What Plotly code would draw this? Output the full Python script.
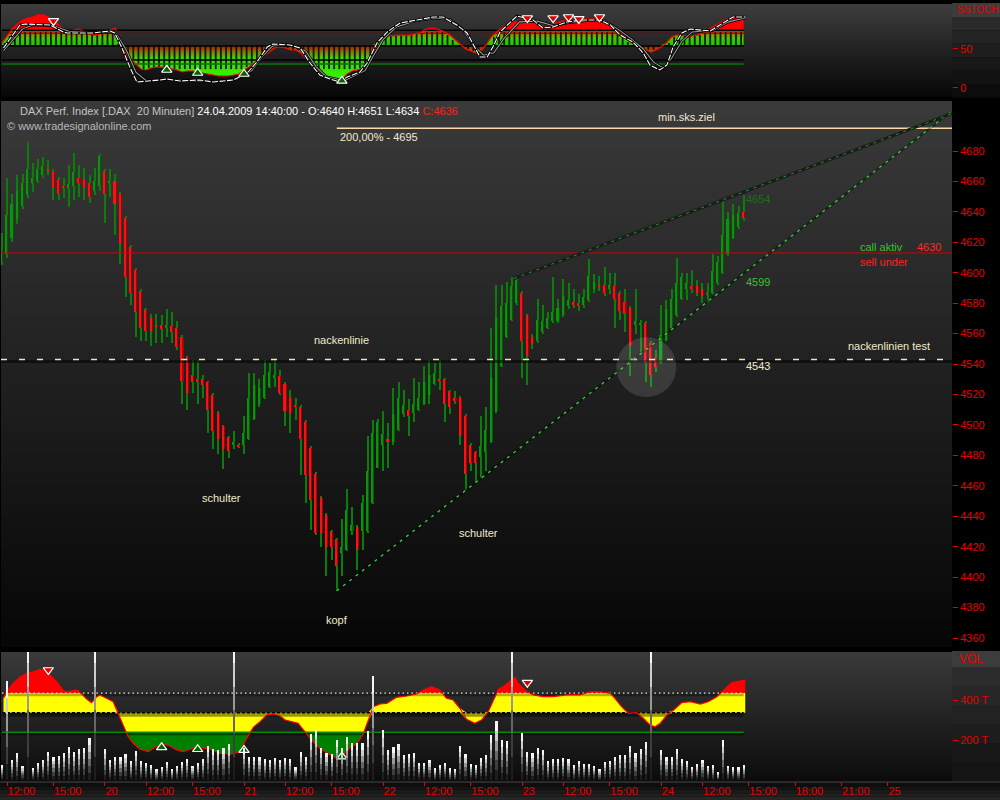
import numpy as np
import plotly.graph_objects as go

# ---------------------------------------------------------------- data
# 20-minute DAX bars; x = bar slot (one slot per 20 minutes, night gaps removed)
FIRST_SLOT = -1
OPEN = [4607, 4612, 4623, 4635, 4644, 4651, 4659, 4660, 4664, 4668,
        4666, 4661, 4657, 4656, 4657, 4662, 4661, 4659, 4654, 4657,
        4667, 4659, 4660, 4652, 4636, 4617, 4602, 4588, 4576, 4570,
        4566, 4566, 4564, 4565, 4564, 4558, 4544, 4533, 4530, 4530,
        4528, 4520, 4508, 4499, 4492, 4487, 4487, 4487, 4491, 4504,
        4514, 4518, 4525, 4531, 4532, 4527, 4518, 4513, 4512, 4502,
        4485, 4468, 4452, 4441, 4430, 4425, 4416, 4418, 4430, 4433,
        4430, 4430, 4449, 4472, 4487, 4491, 4489, 4497, 4507, 4510,
        4508, 4510, 4514, 4520, 4527, 4530, 4530, 4522, 4518, 4518,
        4506, 4487, 4482, 4479, 4482, 4489, 4509, 4539, 4558, 4569,
        4580, 4587, 4572, 4558, 4555, 4561, 4564, 4568, 4568, 4572,
        4578, 4581, 4580, 4579, 4582, 4589, 4592, 4592, 4589, 4591,
        4587, 4581, 4577, 4566, 4566, 4567, 4554, 4544, 4541, 4556,
        4564, 4572, 4583, 4589, 4591, 4591, 4589, 4586, 4587, 4593,
        4600, 4612, 4623, 4630, 4640]
HIGH = [4626, 4662, 4652, 4664, 4665, 4686, 4672, 4675, 4676, 4674,
        4668, 4663, 4662, 4671, 4679, 4671, 4669, 4664, 4669, 4678,
        4668, 4668, 4665, 4653, 4637, 4618, 4603, 4589, 4577, 4573,
        4573, 4572, 4576, 4574, 4568, 4559, 4545, 4543, 4543, 4533,
        4529, 4521, 4509, 4500, 4493, 4496, 4488, 4506, 4534, 4534,
        4530, 4543, 4541, 4543, 4536, 4528, 4523, 4518, 4513, 4503,
        4486, 4469, 4453, 4442, 4431, 4426, 4438, 4458, 4446, 4434,
        4454, 4493, 4503, 4504, 4509, 4501, 4524, 4528, 4523, 4517,
        4531, 4528, 4539, 4543, 4541, 4543, 4531, 4523, 4522, 4519,
        4507, 4488, 4483, 4506, 4512, 4564, 4592, 4592, 4594, 4597,
        4597, 4588, 4573, 4560, 4583, 4579, 4574, 4597, 4583, 4596,
        4593, 4589, 4586, 4589, 4609, 4599, 4598, 4604, 4600, 4600,
        4588, 4589, 4578, 4589, 4569, 4568, 4555, 4549, 4579, 4582,
        4589, 4610, 4600, 4600, 4602, 4595, 4593, 4593, 4612, 4611,
        4648, 4640, 4645, 4644, 4651]
LOW = [4605, 4610, 4620, 4632, 4642, 4649, 4653, 4659, 4662, 4664,
       4648, 4648, 4649, 4643, 4648, 4650, 4648, 4646, 4651, 4654,
       4633, 4650, 4625, 4606, 4584, 4579, 4558, 4555, 4555, 4552,
       4554, 4554, 4558, 4554, 4549, 4514, 4510, 4521, 4514, 4518,
       4495, 4484, 4481, 4471, 4478, 4484, 4485, 4481, 4490, 4503,
       4512, 4517, 4524, 4525, 4520, 4499, 4495, 4503, 4467, 4449,
       4431, 4428, 4420, 4401, 4411, 4391, 4401, 4417, 4428, 4405,
       4418, 4429, 4448, 4472, 4470, 4472, 4487, 4496, 4505, 4493,
       4502, 4509, 4513, 4514, 4526, 4523, 4502, 4507, 4514, 4487,
       4457, 4470, 4462, 4465, 4470, 4488, 4508, 4538, 4557, 4568,
       4579, 4531, 4526, 4550, 4554, 4560, 4563, 4567, 4567, 4571,
       4576, 4577, 4575, 4577, 4581, 4587, 4588, 4585, 4586, 4564,
       4569, 4561, 4532, 4560, 4548, 4528, 4525, 4535, 4540, 4555,
       4563, 4571, 4582, 4582, 4587, 4585, 4580, 4580, 4586, 4592,
       4599, 4611, 4622, 4629, 4634]
CLOSE = [4615, 4638, 4645, 4654, 4659, 4668, 4662, 4668, 4670, 4666,
         4656, 4652, 4656, 4658, 4666, 4659, 4656, 4650, 4660, 4677,
         4652, 4660, 4645, 4619, 4597, 4587, 4574, 4564, 4562, 4562,
         4565, 4563, 4566, 4561, 4551, 4529, 4521, 4528, 4528, 4526,
         4510, 4496, 4491, 4484, 4483, 4489, 4486, 4495, 4518, 4526,
         4524, 4533, 4535, 4533, 4521, 4509, 4508, 4512, 4491, 4467,
         4451, 4429, 4429, 4420, 4420, 4407, 4420, 4444, 4434, 4418,
         4449, 4470, 4495, 4502, 4494, 4489, 4507, 4518, 4513, 4506,
         4514, 4518, 4528, 4533, 4534, 4529, 4514, 4512, 4516, 4493,
         4468, 4475, 4475, 4486, 4497, 4531, 4570, 4578, 4580, 4591,
         4595, 4555, 4545, 4553, 4569, 4568, 4570, 4574, 4577, 4585,
         4582, 4579, 4578, 4584, 4598, 4594, 4591, 4587, 4592, 4583,
         4575, 4573, 4552, 4568, 4567, 4541, 4533, 4538, 4559, 4576,
         4583, 4593, 4597, 4593, 4589, 4587, 4585, 4587, 4601, 4607,
         4625, 4635, 4638, 4639, 4636]
# volume in thousands
VOLUME_T = [75, 495, 100, 133, 70, 700, 62, 83, 100, 142,
            117, 120, 133, 163, 140, 155, 160, 208, 700, 0,
            155, 100, 113, 117, 130, 95, 145, 95, 87, 73,
            55, 67, 88, 55, 70, 88, 105, 70, 83, 105,
            170, 153, 150, 158, 178, 700, 0, 158, 117, 113,
            113, 103, 100, 110, 100, 110, 103, 63, 138, 113,
            228, 250, 162, 137, 128, 200, 158, 217, 183, 183,
            183, 247, 520, 0, 250, 150, 163, 180, 125, 130,
            133, 83, 83, 100, 58, 73, 83, 58, 55, 170,
            130, 80, 75, 108, 125, 225, 295, 200, 195, 700,
            0, 233, 138, 133, 158, 150, 95, 105, 105, 108,
            105, 75, 95, 80, 80, 70, 55, 88, 97, 113,
            125, 125, 170, 133, 155, 188, 700, 0, 150, 113,
            113, 155, 105, 97, 67, 78, 100, 70, 75, 38,
            200, 70, 63, 63, 75]
# SSTO oscillator histogram (one value per slot)
SSTO_HIST = [57.8, 66.8, 75.8, 82.3, 87.5, 90, 91.3, 94, 94, 91.3,
             86, 81, 75.8, 72, 74.5, 75.8, 72, 69.4, 68, 69.4,
             70.7, 74.5, 77, 56.5, 43.5, 37, 30.6, 24.2, 22.9, 25.5,
             26.7, 26.7, 25.5, 24.2, 22.9, 20.3, 21.6, 21.6, 20.3, 19,
             17.7, 16.4, 15.1, 15.1, 15.1, 16.4, 17.7, 22.9, 26.7, 31.9,
             37, 42.2, 47.4, 51.3, 52.6, 51.3, 48.7, 48.7, 44.8, 38.4,
             30.6, 22.9, 17.7, 13.8, 11.2, 8.7, 10, 17.7, 21.6, 22.9,
             25.5, 30.6, 39.7, 59, 65.5, 68, 66.8, 68, 68, 68,
             69.4, 70.7, 74.5, 77, 77, 74.5, 72, 68, 61.6, 55.2,
             50, 47.4, 44.8, 47.4, 55.2, 65.5, 72, 77, 81, 84.9,
             84.9, 87.5, 86.2, 83.6, 81, 78.4, 79.7, 82.3, 84.9, 86.2,
             86.2, 87.5, 87.5, 88.8, 88.8, 88.8, 87.5, 86.2, 83.6, 78.4,
             72, 65.5, 59, 55.2, 52.6, 48.7, 46.1, 48.7, 52.6, 57.8,
             65.5, 68, 68, 66.8, 66.8, 68, 70.7, 74.5, 78.4, 82.3,
             86.2, 88.8, 90, 91.3, 91.3]
# SSTO %K and %D lines
SSTO_K_SLOT = [-0.7, 2.5, 3.5, 8.3, 10.9, 11.6, 16.7, 20, 20.9, 22.3, 23.9, 25.2, 29.7,
               31.0, 33.6, 37.4, 40, 43.9, 46.6, 48.5, 50.5, 51.6, 54.9, 56.9, 58.8, 60.7,
               62.7, 64.6, 66, 68.5, 69.9, 71.8, 73.8, 76.3, 79.6, 82.7, 84.6, 87.3, 89.3,
               91.8, 93.2, 94.3, 95.7, 99, 102.1, 104, 106, 108.7, 111.8, 115.1, 117.1, 119,
               121.5, 123.5, 124.8, 126.7, 128.1, 129.3, 131, 132.6, 136.5, 138.4, 140.9, 143.3]
SSTO_K = [51.3, 81, 82.3, 81, 72, 70.7, 70.7, 73.3, 70.7, 51.3, 25.5, 7.4, 10,
          11.2, 8.7, 10, 7.4, 10, 19, 33.2, 52.6, 56.5, 55.2, 51.3, 31.9, 16.4,
          11.2, 7.4, 13.8, 20.3, 31.9, 57.8, 72, 83.6, 87.5, 91.3, 91.3, 81, 70.7,
          39.7, 39.7, 52.6, 72, 92.6, 87.5, 77.1, 78.4, 84.9, 87.5, 87.5, 81, 68,
          59, 44.8, 29.3, 22.9, 29.3, 52.6, 70.7, 75.8, 73.3, 81, 91.3, 91.3]
SSTO_D_SLOT = [-0.7, 3, 5, 9, 12, 17, 21, 23.2, 25, 27, 31, 35, 40, 44.5, 47.5, 49.5,
               51.6, 55, 58, 60, 62, 65.5, 67, 69.5, 71, 73, 75.5, 79, 83, 86, 88.5,
               90.5, 92.5, 94.5, 96.5, 99.5, 103, 106, 109, 113, 116, 118.5, 121, 123.5,
               125.5, 127.5, 129, 131, 133, 137, 140, 143.3]
SSTO_D = [48, 76, 81, 80, 73, 71, 72, 48, 20, 9, 11, 9, 8, 11, 22, 40,
          54, 56, 47, 27, 14, 9, 14, 22, 40, 62, 78, 86, 90, 88, 75,
          55, 42, 45, 64, 85, 86, 80, 84, 87, 86, 76, 64, 50,
          33, 25, 38, 60, 72, 74, 85, 90]
SSTO_SELL_SLOT = [9, 101, 106, 109, 111, 115]
SSTO_SELL = [86.2, 90, 90, 91.3, 88.8, 91.3]
SSTO_BUY_SLOT = [31, 37, 46, 65]
SSTO_BUY = [22.9, 19, 17.7, 8.7]
# volume oscillator drawn behind the volume bars
VOLOSC_SLOT = [-0.7, -0.1, 1.2, 2.5, 3.8, 5.1, 6.4, 7.4, 8.3, 9.6, 10.9, 11.6, 13.5, 14.5,
               15.5, 16.4, 17.4, 18, 19.3, 20.6, 21.6, 22.6, 23.5, 24.5, 25.8, 27.4, 28.7,
               30.3, 31.6, 32.9, 34.2, 35.5, 37.4, 39.4, 41.3, 43.3, 45.2, 46.5, 47.8, 49.1,
               50.4, 51.7, 53, 54, 55.3, 56.5, 57.8, 59.1, 60.7, 62.4, 64, 65.3, 66.6, 67.9,
               69.2, 70.1, 71.1, 72.4, 73.7, 75.6, 77.6, 79.5, 80.8, 82.4, 84, 85.3, 86.6,
               87.9, 89.2, 90.8, 92.1, 93.4, 94.4, 95.4, 96.3, 97.6, 98.6, 99.2, 100.9, 102.2,
               104.1, 106, 108.6, 111.2, 113.2, 115.1, 117.1, 118, 119.3, 120.6, 122.2, 123.5,
               124.8, 125.8, 126.8, 128.1, 129.4, 131, 132.6, 134.6, 136.1, 137.8, 139.2,
               140.7, 143.3]
VOLOSC = [64.8, 71.5, 80.2, 86.3, 90.4, 92, 94.5, 93.1, 88.7, 81.8, 72.6, 71.5, 73.3, 69.2,
          63.7, 60.3, 66.4, 68.2, 64.8, 61.3, 48.7, 35.6, 25.4, 18.6, 12.5, 10, 14.5,
          17.9, 15.8, 11.7, 10, 12.5, 14.1, 12.5, 8.4, 7.6, 10, 23.7, 35, 40.8,
          47.6, 48.7, 46.6, 42.5, 40.8, 39.1, 30.5, 22, 13.5, 7.6, 3.2, 6.6, 14.5, 17.9,
          28.9, 42.5, 56.2, 58.9, 59.6, 65.8, 67.1, 69.2, 73.3, 76.7, 73.3, 64.8, 63,
          54.5, 43.2, 39.1, 42.5, 51, 63, 74, 76.7, 81.8, 86.3, 80.2, 71.5, 68.2,
          66.4, 66.4, 68.2, 68.2, 71.5, 71.5, 69.9, 64.8, 56.2, 49.4, 50, 44.3,
          37.4, 35.6, 39.1, 47.6, 52.8, 60.3, 61.3, 58.9, 61.3, 66.4, 73.3,
          80.8, 83.5]
VOLOSC_SELL_SLOT = [8, 101]
VOLOSC_SELL = [93.8, 80.8]
VOLOSC_BUY_SLOT = [30, 37, 46, 65]
VOLOSC_BUY = [14.5, 12.5, 11.7, 4.9]

# time axis
TICK_SLOTS = [0, 9, 19, 27, 36, 46, 54, 63, 73, 81, 90, 100, 108, 117, 127, 135,
              144, 153, 162, 171]
TICK_LABELS = ["12:00", "15:00", "20", "12:00", "15:00", "21", "12:00", "15:00", "22",
               "12:00", "15:00", "23", "12:00", "15:00", "24", "12:00", "15:00",
               "18:00", "21:00", "25"]

# chart levels
TRIGGER = 4613        # call / sell level
NECKLINE = 4543
TARGET = 4695         # 200 % projection
KOPF_SLOT, SCHULTER_SLOT = 64, 89          # lows defining the rising support
UPPER_A_SLOT, UPPER_B_SLOT = 99, 139       # highs defining the upper line
HIGHLIGHT_SLOT, HIGHLIGHT_PRICE = 124.1, 4538

for arr in (HIGH, LOW, CLOSE, VOLUME_T, SSTO_HIST):
    assert len(arr) == len(OPEN)

# ---------------------------------------------------------------- geometry
W, H = 1000, 800
M_L, M_R, M_T, M_B = 1, 48, 4, 19
PLOT_W = W - M_L - M_R
PLOT_H = H - M_T - M_B
PX_PER_SLOT = 5.151
SLOT0_PX = 7.1
X_RANGE = [(M_L - SLOT0_PX) / PX_PER_SLOT, (W - M_R - SLOT0_PX) / PX_PER_SLOT]


def py(pix):      # page pixel row -> paper fraction
    return (H - M_B - pix) / PLOT_H


def px(pix):      # page pixel column -> paper fraction
    return (pix - M_L) / PLOT_W


MAIN_DOM = [py(647), py(101)]
MAIN_RANGE = [4354.1, 4712.85]
SSTO_DOM = [py(97), 1.0]
SSTO_RANGE = [-12.0, 108.1]
VOL_DOM = [0.0, py(652)]
VOLOSC_RANGE = [-20.05, 112.25]
VOL_RANGE = [-5, 640]
SSTO_BASE = 55
VOLOSC_BASE = 50

RED = "#e60000"
FONT = "Liberation Sans"
CREAM = "#f2e9cc"

slots = np.arange(FIRST_SLOT, FIRST_SLOT + len(OPEN))
o, h, l, c = (np.array(a, float) for a in (OPEN, HIGH, LOW, CLOSE))
last_slot = slots[-1]

fig = go.Figure()


def background(yaxis, lo, hi, c_lo, c_hi):
    d = hi - lo
    fig.add_trace(go.Heatmap(
        x=[X_RANGE[0] - 5, X_RANGE[1] + 5], y=[lo - d, lo, hi, hi + d],
        z=[[0, 0], [0, 0], [1, 1], [1, 1]], zmin=0, zmax=1,
        colorscale=[[0, c_lo], [1, c_hi]], zsmooth="best", showscale=False,
        hoverinfo="skip", xaxis="x", yaxis=yaxis))


def hline(yaxis, y, x0, x1, color, width, dash="solid"):
    fig.add_trace(go.Scatter(x=[x0, x1], y=[y, y], mode="lines",
                             line=dict(color=color, width=width, dash=dash),
                             hoverinfo="skip", xaxis="x", yaxis=yaxis))


# ================================================================ SSTO panel
background("y2", SSTO_RANGE[0], SSTO_RANGE[1], "#060606", "#3d3d3d")
hist = np.array(SSTO_HIST)
pos = np.maximum(hist, SSTO_BASE)
neg = np.minimum(hist, SSTO_BASE)
xs = list(slots) + list(slots[::-1])
fig.add_trace(go.Scatter(
    x=xs, y=list(pos) + [SSTO_BASE] * len(slots), fill="toself", mode="lines",
    line=dict(width=0), hoverinfo="skip", xaxis="x", yaxis="y2",
    fillgradient=dict(type="vertical", start=SSTO_BASE, stop=76,
                      colorscale=[[0, "#1ec800"], [0.4, "#36d000"], [0.62, "#8c9400"],
                                  [0.8, "#d83000"], [1, "#ff0000"]])))
fig.add_trace(go.Scatter(
    x=xs, y=list(neg) + [SSTO_BASE] * len(slots), fill="toself", mode="lines",
    line=dict(width=0), hoverinfo="skip", xaxis="x", yaxis="y2",
    fillgradient=dict(type="vertical", start=15, stop=SSTO_BASE,
                      colorscale=[[0, "#34f000"], [0.6, "#3cd400"], [0.8, "#8a7000"],
                                  [1, "#c00000"]])))
# dark gaps between histogram columns
sx, sy = [], []
for i in range(len(hist) - 1):
    a, b = hist[i], hist[i + 1]
    xm = slots[i] + 0.5
    if a > SSTO_BASE and b > SSTO_BASE:
        sx += [xm, xm, None]
        sy += [SSTO_BASE, min(a, b, 72), None]
    elif a < SSTO_BASE and b < SSTO_BASE:
        sx += [xm, xm, None]
        sy += [SSTO_BASE, max(a, b, 24), None]
fig.add_trace(go.Scatter(x=sx, y=sy, mode="lines", line=dict(color="#151515", width=1.8),
                         hoverinfo="skip", xaxis="x", yaxis="y2"))
hline("y2", SSTO_BASE - 1, slots[0], last_slot, "rgba(0,0,0,0.75)", 2)
hline("y2", 74.2, slots[0], last_slot, "#000000", 1.5)
hline("y2", 70.3, slots[0], last_slot, "#8a0000", 1)
hline("y2", 35.8, slots[0], last_slot, "#000000", 1.5)
hline("y2", 30.6, slots[0], last_slot, "#007800", 1.5)
fig.add_trace(go.Scatter(x=slots, y=hist, mode="lines", line=dict(color="#ff0000", width=1.2),
                         hoverinfo="skip", xaxis="x", yaxis="y2"))
for xs_, ys_, col in ((SSTO_D_SLOT, SSTO_D, "#9a9a9a"), (SSTO_K_SLOT, SSTO_K, "#ffffff")):
    fig.add_trace(go.Scatter(x=xs_, y=ys_, mode="lines", line=dict(color="#000000", width=2.6),
                             hoverinfo="skip", xaxis="x", yaxis="y2"))
    fig.add_trace(go.Scatter(x=xs_, y=ys_, mode="lines",
                             line=dict(color=col, width=1.1,
                                       dash="6px,1.5px" if col == "#ffffff" else "solid"),
                             hoverinfo="skip", xaxis="x", yaxis="y2"))
fig.add_trace(go.Scatter(x=SSTO_SELL_SLOT, y=SSTO_SELL, mode="markers",
                         marker=dict(symbol="triangle-down", size=9, color="#e00000",
                                     line=dict(color="#ffffff", width=1.2)),
                         hoverinfo="skip", xaxis="x", yaxis="y2"))
fig.add_trace(go.Scatter(x=SSTO_BUY_SLOT, y=SSTO_BUY, mode="markers",
                         marker=dict(symbol="triangle-up", size=9, color="#006400",
                                     line=dict(color="#ffffff", width=1.2)),
                         hoverinfo="skip", xaxis="x", yaxis="y2"))

# ================================================================ price panel
background("y", MAIN_RANGE[0], MAIN_RANGE[1], "#060606", "#3a3a3a")
up = c >= o
body_lo = np.minimum(o, c)
body_h = np.maximum(np.abs(c - o), 0.8)
fig.add_trace(go.Bar(x=slots, base=l, y=h - l, width=0.2, marker=dict(color="#0b7d0b", line_width=0),
                     hoverinfo="skip", xaxis="x", yaxis="y"))
fig.add_trace(go.Bar(x=slots, base=body_lo, y=body_h, width=0.5,
                     marker=dict(color=np.where(up, "#005c00", "#a80000"), line_width=0),
                     hoverinfo="skip", xaxis="x", yaxis="y"))
fig.add_trace(go.Bar(x=slots, base=body_lo, y=body_h, width=0.3, offset=-0.25,
                     marker=dict(color=np.where(up, "#0c920c", "#ff1010"), line_width=0),
                     hoverinfo="skip", xaxis="x", yaxis="y"))

hline("y", TRIGGER, X_RANGE[0], X_RANGE[1], "#d00000", 1)
hline("y", TARGET, KOPF_SLOT, X_RANGE[1], "#ffd9a8", 1.5)
hline("y", NECKLINE - 1.3, X_RANGE[0], X_RANGE[1], "rgba(0,0,0,0.5)", 3)
hline("y", NECKLINE, X_RANGE[0], X_RANGE[1], "#f0e4c0", 1.5, "6px,12px")

i_k, i_s = KOPF_SLOT - FIRST_SLOT, SCHULTER_SLOT - FIRST_SLOT
low_slope = (l[i_s] - l[i_k]) / (SCHULTER_SLOT - KOPF_SLOT)
lx = [KOPF_SLOT, X_RANGE[1]]
ly = [l[i_k], l[i_k] + low_slope * (X_RANGE[1] - KOPF_SLOT)]
i_a, i_b = UPPER_A_SLOT - FIRST_SLOT, UPPER_B_SLOT - FIRST_SLOT
up_slope = (h[i_b] - h[i_a]) / (UPPER_B_SLOT - UPPER_A_SLOT)
ux = [UPPER_A_SLOT - 0.6, X_RANGE[1]]
uy = [h[i_a] + up_slope * (ux[0] - UPPER_A_SLOT), h[i_a] + up_slope * (ux[1] - UPPER_A_SLOT)]
for xx, yy, dark, dw, green, gw, dash in (
        (lx, ly, "rgba(0,0,0,0.35)", 2.5, "#3ad23a", 1.3, "3px,5px"),
        (ux, uy, "#1b1b1b", 3, "#1f9f1f", 1, "3px,5px")):
    fig.add_trace(go.Scatter(x=xx, y=yy, mode="lines", line=dict(color=dark, width=dw),
                             hoverinfo="skip", xaxis="x", yaxis="y"))
    fig.add_trace(go.Scatter(x=xx, y=yy, mode="lines", line=dict(color=green, width=gw, dash=dash),
                             hoverinfo="skip", xaxis="x", yaxis="y"))

# ================================================================ volume panel
background("y3", VOLOSC_RANGE[0], VOLOSC_RANGE[1], "#0b0b0b", "#3a3a3a")
vw = np.array(VOLOSC)
vxs = list(VOLOSC_SLOT) + list(VOLOSC_SLOT[::-1])
fig.add_trace(go.Scatter(
    x=vxs, y=list(np.maximum(vw, VOLOSC_BASE)) + [VOLOSC_BASE] * len(vw), fill="toself",
    mode="lines", line=dict(width=0), hoverinfo="skip", xaxis="x", yaxis="y3",
    fillgradient=dict(type="vertical", start=VOLOSC_BASE, stop=VOLOSC_RANGE[1],
                      colorscale=[[0, "#ffff00"], [0.321, "#ffff00"], [0.3215, "#ff0000"],
                                  [1, "#ff0000"]])))
fig.add_trace(go.Scatter(
    x=vxs, y=list(np.minimum(vw, VOLOSC_BASE)) + [VOLOSC_BASE] * len(vw), fill="toself",
    mode="lines", line=dict(width=0), hoverinfo="skip", xaxis="x", yaxis="y3",
    fillgradient=dict(type="vertical", start=VOLOSC_RANGE[0], stop=VOLOSC_BASE,
                      colorscale=[[0, "#008000"], [0.714, "#008000"], [0.7145, "#ffff00"],
                                  [1, "#ffff00"]])))
hline("y3", 47.8, slots[0], last_slot, "rgba(0,0,0,0.4)", 4)
hline("y3", 68.3, slots[0], last_slot, "rgba(0,0,0,0.3)", 3)
hline("y3", 28.0, slots[0], last_slot, "rgba(0,0,0,0.5)", 2)
hline("y3", VOLOSC_BASE, slots[0], last_slot, "#000000", 1.5, "3px,2px")
hline("y3", 70, slots[0], last_slot, "#e6e6e6", 1.2, "1.5px,3px")
hline("y3", 30, slots[0], last_slot, "#008c00", 1.5)
fig.add_trace(go.Scatter(x=VOLOSC_SLOT, y=VOLOSC, mode="lines", line=dict(color="#ff0000", width=1.2),
                         hoverinfo="skip", xaxis="x", yaxis="y3"))
fig.add_trace(go.Scatter(x=VOLOSC_SELL_SLOT, y=VOLOSC_SELL, mode="markers",
                         marker=dict(symbol="triangle-down", size=9, color="#e00000",
                                     line=dict(color="#ffffff", width=1.2)),
                         hoverinfo="skip", xaxis="x", yaxis="y3"))
fig.add_trace(go.Scatter(x=VOLOSC_BUY_SLOT, y=VOLOSC_BUY, mode="markers",
                         marker=dict(symbol="triangle-up", size=9, color="#006400",
                                     line=dict(color="#ffffff", width=1.2)),
                         hoverinfo="skip", xaxis="x", yaxis="y3"))

# volume columns, shaded dark at the foot and white at the top
vol = np.array(VOLUME_T, float)
shades = ["#1e1e1e", "#3e3e3e", "#666666", "#999999", "#cdcdcd", "#f6f6f6"]
for k, col in enumerate(shades):
    fig.add_trace(go.Bar(x=slots, base=vol * k / len(shades), y=vol / len(shades), width=0.42,
                         marker=dict(color=col, line_width=0), hoverinfo="skip",
                         xaxis="x", yaxis="y4"))

# ================================================================ shapes
shapes = [
    # highlight around the neckline retest
    dict(type="circle", xref="x", yref="y", layer="above",
         x0=HIGHLIGHT_SLOT - 30 / PX_PER_SLOT, x1=HIGHLIGHT_SLOT + 30 / PX_PER_SLOT,
         y0=HIGHLIGHT_PRICE - 19.7, y1=HIGHLIGHT_PRICE + 19.7,
         fillcolor="rgba(255,255,255,0.12)", line=dict(width=0)),
]


def prect(x0, x1, y0, y1, color):
    shapes.append(dict(type="rect", xref="paper", yref="paper", layer="below",
                       x0=px(x0), x1=px(x1), y0=py(y1), y1=py(y0),
                       fillcolor=color, line=dict(width=0)))


# right-hand scale strips
prect(952, 1001, 3, 17, "#3c3c3c")
for i, col in enumerate(["#2a2a2a", "#242424", "#1e1e1e", "#181818", "#121212", "#0c0c0c"]):
    prect(952, 1001, 17 + i * 13.4, 17 + (i + 1) * 13.4, col)
prect(952, 1001, 651, 667, "#3c3c3c")
for i, col in enumerate(["#2c2c2c", "#272727", "#222222", "#1d1d1d", "#181818", "#141414"]):
    prect(952, 1001, 667 + i * 19, 667 + (i + 1) * 19, col)
# time scale strip
for i, col in enumerate(["#2a2a2a", "#0e0e0e", "#141414", "#1a1a1a", "#202020", "#262626"]):
    y0 = 781 + (0 if i == 0 else 2 + (i - 1) * 3.4)
    y1 = 783 if i == 0 else 783 + i * 3.4
    prect(-1, 1001, y0, y1, col)

# ================================================================ text
ann = []


def label(x, y, text, color=CREAM, xanchor="center", yanchor="middle", size=11, xref="x", yref="y"):
    ann.append(dict(x=x, y=y, xref=xref, yref=yref, text=text, showarrow=False,
                    xanchor=xanchor, yanchor=yanchor,
                    font=dict(family=FONT, size=size, color=color)))


label(41.7, 4452, "schulter")
label(64.0, 4372, "kopf")
label(91.6, 4429, "schulter")
label(65.0, 4555.8, "nackenlinie")
label(162.9, 4551.9, "nackenlinien test", xanchor="left")
label(64.2, 4689.2, "200,00% - " + str(TARGET), xanchor="left")
label(131.8, 4702.3, "min.sks.ziel")
label(143.0, 4648.5, "4654", color="#1e6e1e", xanchor="left")
label(143.1, 4594.0, "4599", color="#38c038", xanchor="left")
label(143.1, 4538.7, str(NECKLINE), xanchor="left")
label(165.2, 4617.0, "call aktiv", color="#2ec82e", xanchor="left")
label(176.3, 4617.0, "4630", color="#ff2a2a", xanchor="left")
label(165.2, 4607.0, "sell under", color="#ff2020", xanchor="left")

title = ("<span style='color:#c4c4c4'>DAX Perf. Index [.DAX\u00a0 20 Minuten]</span> "
         "<span style='color:#ffffff'>24.04.2009 14:40:00 - O:{} H:{} L:{}</span> "
         "<span style='color:#ff2020'>C:{}</span>").format(OPEN[-1], HIGH[-1], LOW[-1], CLOSE[-1])
label(px(18), py(111), title, xanchor="left", xref="paper", yref="paper")
label(px(5), py(126), "© www.tradesignalonline.com", color="#b8b8b8", xanchor="left",
      xref="paper", yref="paper")
label(px(955), py(10), "SSTOCH", color=RED, xanchor="left", size=10, xref="paper", yref="paper")
label(px(957), py(659), "VOL", color=RED, xanchor="left", size=12, xref="paper", yref="paper")

# ================================================================ layout
tickfont = dict(family=FONT, size=11, color=RED)
yax = dict(side="right", anchor="x", showgrid=False, zeroline=False, showline=False,
           ticks="outside", ticklen=5, tickcolor=RED, tickfont=tickfont, fixedrange=True)
fig.update_layout(
    width=W, height=H, margin=dict(l=M_L, r=M_R, t=M_T, b=M_B),
    paper_bgcolor="#000000", plot_bgcolor="#000000", showlegend=False,
    barmode="overlay", bargap=0, hovermode=False,
    xaxis=dict(domain=[0, 1], range=X_RANGE, anchor="y3", showgrid=False, zeroline=False,
               showline=False, tickmode="array", tickvals=TICK_SLOTS, ticktext=TICK_LABELS,
               ticks="outside", ticklen=4, tickcolor=RED, tickfont=tickfont,
               ticklabelposition="outside right", fixedrange=True),
    yaxis=dict(domain=MAIN_DOM, range=MAIN_RANGE, tickmode="array",
               tickvals=list(range(4360, 4681, 20)), **yax),
    yaxis2=dict(domain=SSTO_DOM, range=SSTO_RANGE, tickmode="array", tickvals=[0, 50], **yax),
    yaxis3=dict(domain=VOL_DOM, range=VOLOSC_RANGE, side="right", anchor="x", showgrid=False,
                zeroline=False, showticklabels=False, ticks="", fixedrange=True),
    yaxis4=dict(overlaying="y3", range=VOL_RANGE, tickmode="array", tickvals=[200, 400],
                ticktext=["200 T", "400 T"], **yax),
    shapes=shapes, annotations=ann,
)

fig.write_html("out.html")
